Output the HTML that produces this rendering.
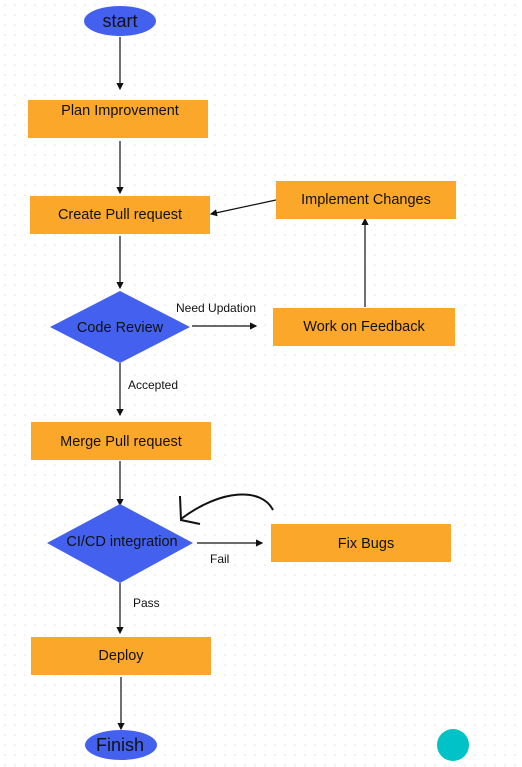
<!DOCTYPE html>
<html><head><style>html,body{margin:0;padding:0;background:#fff}svg{display:block}text{font-family:"Liberation Sans",sans-serif;fill:#111}</style></head><body>
<svg width="522" height="767" viewBox="0 0 522 767" xmlns="http://www.w3.org/2000/svg">
<defs>
<pattern id="d" width="10" height="10" patternUnits="userSpaceOnUse"><circle cx="5" cy="5" r="0.8" fill="#e2e2e2"/></pattern>
<marker id="a" markerWidth="6" markerHeight="6" refX="5" refY="3" orient="auto"><path d="M0,0 L6,3 L0,6 z" fill="#111"/></marker>
</defs>
<rect width="522" height="767" fill="url(#d)"/>
<g stroke="#111" stroke-width="1.2" fill="none" marker-end="url(#a)">
<line x1="120" y1="37" x2="120" y2="89"/>
<line x1="120" y1="141" x2="120" y2="193"/>
<line x1="276" y1="200" x2="211" y2="214"/>
<line x1="120" y1="236" x2="120" y2="288"/>
<line x1="192" y1="326" x2="256" y2="326"/>
<line x1="365" y1="307" x2="365" y2="219"/>
<line x1="120" y1="363" x2="120" y2="415"/>
<line x1="120" y1="461" x2="120" y2="505"/>
<line x1="197" y1="543" x2="262" y2="543"/>
<line x1="120" y1="583" x2="120" y2="633"/>
<line x1="121" y1="677" x2="121" y2="729"/>
</g>
<path d="M273,510 C262,488 222,488 181,519" stroke="#111" stroke-width="2" fill="none"/>
<path d="M180,496 L181,520 L200,524" stroke="#111" stroke-width="2" fill="none"/>
<ellipse cx="120" cy="21" rx="36" ry="15" fill="#4361EE"/>
<text x="120" y="27" font-size="18" text-anchor="middle">start</text>
<g fill="#FBA82A">
<rect x="28" y="100" width="180" height="38"/>
<rect x="30" y="196" width="180" height="38"/>
<rect x="276" y="181" width="180" height="38"/>
<rect x="273" y="308" width="182" height="38"/>
<rect x="31" y="422" width="180" height="38"/>
<rect x="271" y="524" width="180" height="38"/>
<rect x="31" y="637" width="180" height="38"/>
</g>
<polygon points="50,327 120,291 190,327 120,363" fill="#4361EE"/>
<polygon points="47,543 120,504 193,543 120,583" fill="#4361EE"/>
<g font-size="14.5" text-anchor="middle">
<text x="120" y="115">Plan Improvement</text>
<text x="120" y="219">Create Pull request</text>
<text x="366" y="204">Implement Changes</text>
<text x="364" y="331">Work on Feedback</text>
<text x="120" y="332">Code Review</text>
<text x="121" y="446">Merge Pull request</text>
<text x="122" y="546">CI/CD integration</text>
<text x="366" y="548">Fix Bugs</text>
<text x="121" y="660">Deploy</text>
</g>
<g font-size="12">
<text x="176" y="312">Need Updation</text>
<text x="128" y="389">Accepted</text>
<text x="210" y="563">Fail</text>
<text x="133" y="607">Pass</text>
</g>
<ellipse cx="121" cy="745" rx="36" ry="15" fill="#4361EE"/>
<text x="120" y="751" font-size="18" text-anchor="middle">Finish</text>
<circle cx="453" cy="745" r="16" fill="#00C2C7"/>
</svg>
</body></html>
